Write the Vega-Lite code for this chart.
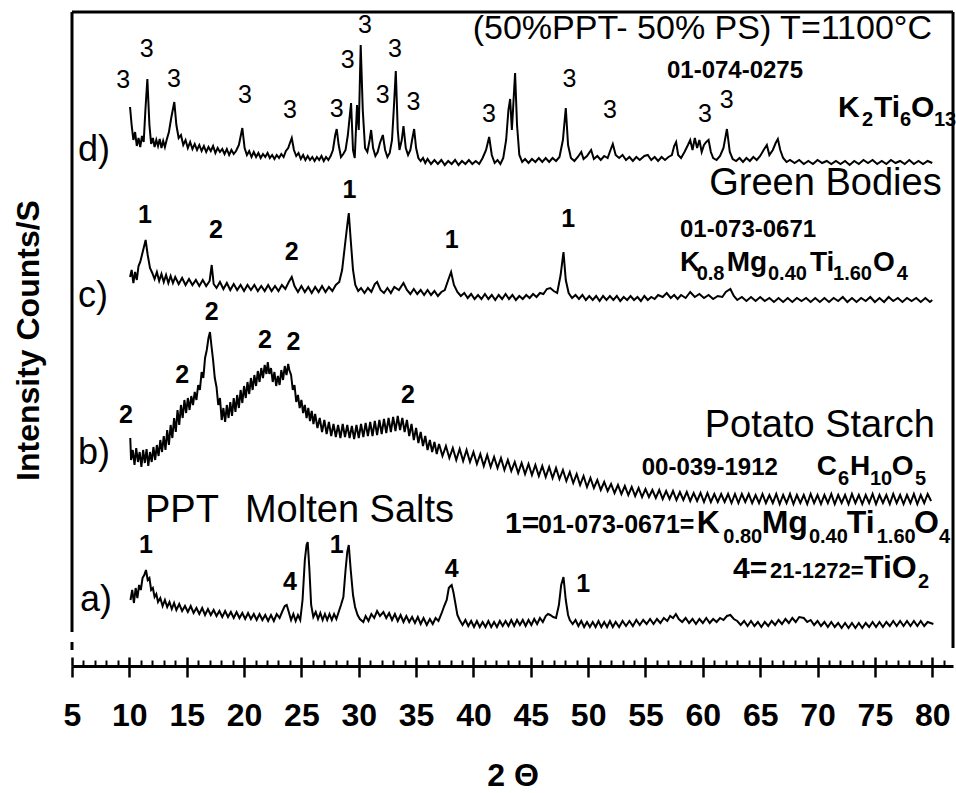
{
"$schema":"https://vega.github.io/schema/vega-lite/v6.json",
"width":881,"height":654,
"autosize":{"type":"none"},
"padding":{"left":72,"top":12,"right":3,"bottom":127},
"config":{"view":{"stroke":null},"font":"Liberation Sans","axis":{"grid":false}},
"datasets":{
"xrd":[
{"s":"d","t":10.06,"i":559},{"s":"d","t":10.2,"i":541},{"s":"d","t":10.35,"i":526},{"s":"d","t":10.5,"i":534},{"s":"d","t":10.65,"i":520},{"s":"d","t":10.8,"i":528},{"s":"d","t":10.95,"i":519},{"s":"d","t":11.1,"i":530},{"s":"d","t":11.25,"i":524},{"s":"d","t":11.4,"i":556},{"s":"d","t":11.57,"i":587},{"s":"d","t":11.75,"i":541},{"s":"d","t":11.9,"i":522},{"s":"d","t":12.05,"i":528},{"s":"d","t":12.2,"i":519},{"s":"d","t":12.35,"i":526},{"s":"d","t":12.5,"i":520},{"s":"d","t":12.65,"i":527},{"s":"d","t":12.8,"i":518},{"s":"d","t":12.95,"i":525},{"s":"d","t":13.1,"i":519},{"s":"d","t":13.25,"i":526},{"s":"d","t":13.45,"i":534},{"s":"d","t":13.65,"i":548},{"s":"d","t":13.92,"i":564},{"s":"d","t":14.1,"i":541},{"s":"d","t":14.3,"i":528},{"s":"d","t":14.5,"i":531},{"s":"d","t":14.7,"i":521},{"s":"d","t":14.9,"i":526},{"s":"d","t":15.1,"i":518},{"s":"d","t":15.3,"i":524},{"s":"d","t":15.5,"i":517},{"s":"d","t":15.7,"i":522},{"s":"d","t":15.9,"i":516},{"s":"d","t":16.1,"i":521},{"s":"d","t":16.3,"i":515},{"s":"d","t":16.5,"i":520},{"s":"d","t":16.7,"i":514},{"s":"d","t":16.9,"i":519},{"s":"d","t":17.1,"i":515},{"s":"d","t":17.3,"i":520},{"s":"d","t":17.5,"i":513},{"s":"d","t":17.7,"i":518},{"s":"d","t":17.9,"i":514},{"s":"d","t":18.1,"i":517},{"s":"d","t":18.3,"i":512},{"s":"d","t":18.5,"i":517},{"s":"d","t":18.7,"i":511},{"s":"d","t":18.9,"i":516},{"s":"d","t":19.1,"i":512},{"s":"d","t":19.3,"i":515},{"s":"d","t":19.55,"i":521},{"s":"d","t":19.85,"i":538},{"s":"d","t":20.05,"i":518},{"s":"d","t":20.25,"i":511},{"s":"d","t":20.45,"i":515},{"s":"d","t":20.65,"i":509},{"s":"d","t":20.85,"i":514},{"s":"d","t":21.05,"i":509},{"s":"d","t":21.25,"i":513},{"s":"d","t":21.45,"i":508},{"s":"d","t":21.65,"i":512},{"s":"d","t":21.85,"i":509},{"s":"d","t":22.05,"i":513},{"s":"d","t":22.25,"i":508},{"s":"d","t":22.45,"i":511},{"s":"d","t":22.65,"i":507},{"s":"d","t":22.85,"i":511},{"s":"d","t":23.05,"i":508},{"s":"d","t":23.25,"i":512},{"s":"d","t":23.45,"i":509},{"s":"d","t":23.65,"i":515},{"s":"d","t":23.85,"i":518},{"s":"d","t":24.0,"i":523},{"s":"d","t":24.16,"i":528},{"s":"d","t":24.35,"i":516},{"s":"d","t":24.55,"i":510},{"s":"d","t":24.75,"i":513},{"s":"d","t":24.95,"i":507},{"s":"d","t":25.15,"i":511},{"s":"d","t":25.35,"i":506},{"s":"d","t":25.55,"i":510},{"s":"d","t":25.75,"i":506},{"s":"d","t":25.95,"i":509},{"s":"d","t":26.15,"i":505},{"s":"d","t":26.35,"i":509},{"s":"d","t":26.55,"i":506},{"s":"d","t":26.75,"i":510},{"s":"d","t":26.95,"i":505},{"s":"d","t":27.15,"i":509},{"s":"d","t":27.35,"i":506},{"s":"d","t":27.55,"i":510},{"s":"d","t":27.75,"i":516},{"s":"d","t":27.95,"i":531},{"s":"d","t":28.08,"i":537},{"s":"d","t":28.25,"i":521},{"s":"d","t":28.45,"i":509},{"s":"d","t":28.65,"i":512},{"s":"d","t":28.85,"i":516},{"s":"d","t":29.05,"i":531},{"s":"d","t":29.33,"i":563},{"s":"d","t":29.5,"i":516},{"s":"d","t":29.65,"i":508},{"s":"d","t":29.85,"i":561},{"s":"d","t":30.0,"i":536},{"s":"d","t":30.17,"i":621},{"s":"d","t":30.35,"i":556},{"s":"d","t":30.55,"i":518},{"s":"d","t":30.75,"i":514},{"s":"d","t":30.95,"i":526},{"s":"d","t":31.08,"i":536},{"s":"d","t":31.25,"i":518},{"s":"d","t":31.45,"i":510},{"s":"d","t":31.65,"i":514},{"s":"d","t":31.85,"i":523},{"s":"d","t":32.1,"i":531},{"s":"d","t":32.3,"i":516},{"s":"d","t":32.5,"i":509},{"s":"d","t":32.7,"i":513},{"s":"d","t":32.9,"i":526},{"s":"d","t":33.05,"i":556},{"s":"d","t":33.23,"i":595},{"s":"d","t":33.4,"i":536},{"s":"d","t":33.55,"i":516},{"s":"d","t":33.75,"i":526},{"s":"d","t":33.9,"i":540},{"s":"d","t":34.1,"i":518},{"s":"d","t":34.3,"i":511},{"s":"d","t":34.5,"i":516},{"s":"d","t":34.65,"i":526},{"s":"d","t":34.83,"i":537},{"s":"d","t":35.0,"i":518},{"s":"d","t":35.2,"i":508},{"s":"d","t":35.4,"i":505},{"s":"d","t":35.6,"i":508},{"s":"d","t":35.8,"i":503},{"s":"d","t":36.0,"i":507},{"s":"d","t":36.3,"i":502},{"s":"d","t":36.6,"i":506},{"s":"d","t":36.9,"i":502},{"s":"d","t":37.2,"i":506},{"s":"d","t":37.5,"i":501},{"s":"d","t":37.8,"i":505},{"s":"d","t":38.1,"i":502},{"s":"d","t":38.4,"i":506},{"s":"d","t":38.7,"i":501},{"s":"d","t":39.0,"i":505},{"s":"d","t":39.3,"i":502},{"s":"d","t":39.6,"i":506},{"s":"d","t":39.9,"i":502},{"s":"d","t":40.2,"i":505},{"s":"d","t":40.5,"i":502},{"s":"d","t":40.8,"i":508},{"s":"d","t":41.1,"i":516},{"s":"d","t":41.37,"i":529},{"s":"d","t":41.6,"i":511},{"s":"d","t":41.85,"i":503},{"s":"d","t":42.1,"i":506},{"s":"d","t":42.35,"i":502},{"s":"d","t":42.6,"i":508},{"s":"d","t":42.85,"i":526},{"s":"d","t":43.05,"i":556},{"s":"d","t":43.2,"i":567},{"s":"d","t":43.35,"i":536},{"s":"d","t":43.45,"i":556},{"s":"d","t":43.63,"i":593},{"s":"d","t":43.8,"i":541},{"s":"d","t":44.0,"i":511},{"s":"d","t":44.25,"i":504},{"s":"d","t":44.5,"i":507},{"s":"d","t":44.8,"i":503},{"s":"d","t":45.1,"i":507},{"s":"d","t":45.4,"i":504},{"s":"d","t":45.7,"i":508},{"s":"d","t":46.0,"i":504},{"s":"d","t":46.3,"i":508},{"s":"d","t":46.6,"i":504},{"s":"d","t":46.9,"i":508},{"s":"d","t":47.2,"i":505},{"s":"d","t":47.5,"i":509},{"s":"d","t":47.8,"i":526},{"s":"d","t":48.05,"i":558},{"s":"d","t":48.25,"i":521},{"s":"d","t":48.5,"i":508},{"s":"d","t":48.8,"i":505},{"s":"d","t":49.1,"i":509},{"s":"d","t":49.4,"i":514},{"s":"d","t":49.6,"i":507},{"s":"d","t":49.9,"i":510},{"s":"d","t":50.26,"i":516},{"s":"d","t":50.5,"i":507},{"s":"d","t":50.8,"i":510},{"s":"d","t":51.1,"i":506},{"s":"d","t":51.4,"i":510},{"s":"d","t":51.7,"i":508},{"s":"d","t":51.95,"i":516},{"s":"d","t":52.15,"i":522},{"s":"d","t":52.4,"i":511},{"s":"d","t":52.7,"i":508},{"s":"d","t":53.0,"i":511},{"s":"d","t":53.3,"i":506},{"s":"d","t":53.6,"i":509},{"s":"d","t":53.9,"i":505},{"s":"d","t":54.2,"i":509},{"s":"d","t":54.5,"i":506},{"s":"d","t":54.9,"i":510},{"s":"d","t":55.2,"i":511},{"s":"d","t":55.5,"i":506},{"s":"d","t":55.8,"i":509},{"s":"d","t":56.1,"i":505},{"s":"d","t":56.4,"i":509},{"s":"d","t":56.7,"i":506},{"s":"d","t":57.0,"i":509},{"s":"d","t":57.3,"i":511},{"s":"d","t":57.5,"i":520},{"s":"d","t":57.67,"i":524},{"s":"d","t":57.85,"i":511},{"s":"d","t":58.1,"i":508},{"s":"d","t":58.4,"i":514},{"s":"d","t":58.7,"i":521},{"s":"d","t":58.9,"i":526},{"s":"d","t":59.1,"i":516},{"s":"d","t":59.3,"i":528},{"s":"d","t":59.5,"i":518},{"s":"d","t":59.7,"i":526},{"s":"d","t":59.9,"i":514},{"s":"d","t":60.1,"i":521},{"s":"d","t":60.3,"i":524},{"s":"d","t":60.5,"i":526},{"s":"d","t":60.7,"i":514},{"s":"d","t":60.9,"i":508},{"s":"d","t":61.2,"i":506},{"s":"d","t":61.5,"i":510},{"s":"d","t":61.8,"i":518},{"s":"d","t":62.1,"i":537},{"s":"d","t":62.35,"i":514},{"s":"d","t":62.6,"i":507},{"s":"d","t":62.9,"i":505},{"s":"d","t":63.2,"i":508},{"s":"d","t":63.5,"i":504},{"s":"d","t":63.8,"i":508},{"s":"d","t":64.1,"i":505},{"s":"d","t":64.4,"i":509},{"s":"d","t":64.7,"i":506},{"s":"d","t":65.0,"i":510},{"s":"d","t":65.3,"i":516},{"s":"d","t":65.58,"i":521},{"s":"d","t":65.8,"i":511},{"s":"d","t":66.1,"i":516},{"s":"d","t":66.35,"i":523},{"s":"d","t":66.54,"i":527},{"s":"d","t":66.75,"i":516},{"s":"d","t":67.0,"i":508},{"s":"d","t":67.3,"i":504},{"s":"d","t":67.6,"i":506},{"s":"d","t":68.0,"i":503},{"s":"d","t":68.4,"i":506},{"s":"d","t":68.8,"i":502},{"s":"d","t":69.2,"i":505},{"s":"d","t":69.6,"i":502},{"s":"d","t":70.0,"i":506},{"s":"d","t":70.4,"i":503},{"s":"d","t":70.8,"i":505},{"s":"d","t":71.2,"i":502},{"s":"d","t":71.6,"i":505},{"s":"d","t":72.0,"i":502},{"s":"d","t":72.4,"i":505},{"s":"d","t":72.8,"i":501},{"s":"d","t":73.2,"i":505},{"s":"d","t":73.6,"i":502},{"s":"d","t":74.0,"i":506},{"s":"d","t":74.4,"i":503},{"s":"d","t":74.8,"i":506},{"s":"d","t":75.2,"i":502},{"s":"d","t":75.6,"i":505},{"s":"d","t":76.0,"i":502},{"s":"d","t":76.4,"i":506},{"s":"d","t":76.8,"i":503},{"s":"d","t":77.2,"i":505},{"s":"d","t":77.6,"i":502},{"s":"d","t":78.0,"i":506},{"s":"d","t":78.4,"i":502},{"s":"d","t":78.8,"i":505},{"s":"d","t":79.2,"i":502},{"s":"d","t":79.6,"i":505},{"s":"d","t":80.0,"i":503},
{"s":"c","t":10.06,"i":389},{"s":"c","t":10.2,"i":396},{"s":"c","t":10.35,"i":383},{"s":"c","t":10.5,"i":394},{"s":"c","t":10.65,"i":386},{"s":"c","t":10.8,"i":400},{"s":"c","t":10.95,"i":404},{"s":"c","t":11.1,"i":411},{"s":"c","t":11.25,"i":418},{"s":"c","t":11.42,"i":426},{"s":"c","t":11.6,"i":411},{"s":"c","t":11.8,"i":398},{"s":"c","t":12.0,"i":393},{"s":"c","t":12.2,"i":387},{"s":"c","t":12.4,"i":394},{"s":"c","t":12.6,"i":385},{"s":"c","t":12.8,"i":392},{"s":"c","t":13.0,"i":384},{"s":"c","t":13.2,"i":391},{"s":"c","t":13.4,"i":383},{"s":"c","t":13.6,"i":390},{"s":"c","t":13.8,"i":383},{"s":"c","t":14.0,"i":389},{"s":"c","t":14.3,"i":382},{"s":"c","t":14.6,"i":388},{"s":"c","t":14.9,"i":381},{"s":"c","t":15.2,"i":387},{"s":"c","t":15.5,"i":381},{"s":"c","t":15.8,"i":386},{"s":"c","t":16.1,"i":380},{"s":"c","t":16.4,"i":386},{"s":"c","t":16.7,"i":380},{"s":"c","t":17.0,"i":385},{"s":"c","t":17.18,"i":401},{"s":"c","t":17.35,"i":382},{"s":"c","t":17.6,"i":378},{"s":"c","t":17.9,"i":384},{"s":"c","t":18.2,"i":377},{"s":"c","t":18.5,"i":383},{"s":"c","t":18.8,"i":376},{"s":"c","t":19.1,"i":382},{"s":"c","t":19.4,"i":376},{"s":"c","t":19.7,"i":381},{"s":"c","t":20.0,"i":375},{"s":"c","t":20.3,"i":381},{"s":"c","t":20.6,"i":376},{"s":"c","t":20.9,"i":381},{"s":"c","t":21.2,"i":375},{"s":"c","t":21.5,"i":380},{"s":"c","t":21.8,"i":375},{"s":"c","t":22.1,"i":381},{"s":"c","t":22.4,"i":375},{"s":"c","t":22.7,"i":380},{"s":"c","t":23.0,"i":375},{"s":"c","t":23.3,"i":381},{"s":"c","t":23.6,"i":377},{"s":"c","t":23.9,"i":384},{"s":"c","t":24.16,"i":389},{"s":"c","t":24.4,"i":380},{"s":"c","t":24.7,"i":374},{"s":"c","t":25.0,"i":380},{"s":"c","t":25.3,"i":374},{"s":"c","t":25.6,"i":379},{"s":"c","t":25.9,"i":373},{"s":"c","t":26.2,"i":379},{"s":"c","t":26.5,"i":374},{"s":"c","t":26.8,"i":380},{"s":"c","t":27.1,"i":374},{"s":"c","t":27.4,"i":379},{"s":"c","t":27.7,"i":375},{"s":"c","t":28.0,"i":381},{"s":"c","t":28.3,"i":384},{"s":"c","t":28.55,"i":396},{"s":"c","t":28.8,"i":421},{"s":"c","t":29.0,"i":441},{"s":"c","t":29.13,"i":453},{"s":"c","t":29.3,"i":426},{"s":"c","t":29.5,"i":396},{"s":"c","t":29.7,"i":381},{"s":"c","t":29.95,"i":375},{"s":"c","t":30.2,"i":378},{"s":"c","t":30.5,"i":373},{"s":"c","t":30.8,"i":378},{"s":"c","t":31.1,"i":374},{"s":"c","t":31.4,"i":382},{"s":"c","t":31.6,"i":384},{"s":"c","t":31.9,"i":376},{"s":"c","t":32.2,"i":373},{"s":"c","t":32.5,"i":378},{"s":"c","t":32.8,"i":373},{"s":"c","t":33.1,"i":379},{"s":"c","t":33.5,"i":376},{"s":"c","t":33.9,"i":383},{"s":"c","t":34.2,"i":376},{"s":"c","t":34.5,"i":372},{"s":"c","t":34.8,"i":377},{"s":"c","t":35.1,"i":372},{"s":"c","t":35.4,"i":376},{"s":"c","t":35.7,"i":371},{"s":"c","t":36.0,"i":376},{"s":"c","t":36.3,"i":371},{"s":"c","t":36.6,"i":375},{"s":"c","t":36.9,"i":370},{"s":"c","t":37.2,"i":374},{"s":"c","t":37.5,"i":376},{"s":"c","t":37.8,"i":386},{"s":"c","t":38.05,"i":394},{"s":"c","t":38.3,"i":381},{"s":"c","t":38.6,"i":374},{"s":"c","t":38.9,"i":370},{"s":"c","t":39.2,"i":373},{"s":"c","t":39.5,"i":368},{"s":"c","t":39.8,"i":372},{"s":"c","t":40.1,"i":367},{"s":"c","t":40.4,"i":371},{"s":"c","t":40.7,"i":367},{"s":"c","t":41.0,"i":372},{"s":"c","t":41.3,"i":367},{"s":"c","t":41.6,"i":371},{"s":"c","t":41.9,"i":366},{"s":"c","t":42.2,"i":371},{"s":"c","t":42.5,"i":367},{"s":"c","t":42.8,"i":372},{"s":"c","t":43.1,"i":367},{"s":"c","t":43.4,"i":371},{"s":"c","t":43.7,"i":366},{"s":"c","t":44.0,"i":370},{"s":"c","t":44.3,"i":367},{"s":"c","t":44.6,"i":371},{"s":"c","t":44.9,"i":368},{"s":"c","t":45.2,"i":372},{"s":"c","t":45.5,"i":369},{"s":"c","t":45.8,"i":373},{"s":"c","t":46.1,"i":372},{"s":"c","t":46.4,"i":377},{"s":"c","t":46.7,"i":378},{"s":"c","t":47.0,"i":375},{"s":"c","t":47.3,"i":373},{"s":"c","t":47.6,"i":391},{"s":"c","t":47.85,"i":414},{"s":"c","t":48.05,"i":386},{"s":"c","t":48.3,"i":373},{"s":"c","t":48.6,"i":368},{"s":"c","t":48.9,"i":371},{"s":"c","t":49.2,"i":367},{"s":"c","t":49.5,"i":371},{"s":"c","t":49.8,"i":366},{"s":"c","t":50.1,"i":370},{"s":"c","t":50.4,"i":366},{"s":"c","t":50.7,"i":370},{"s":"c","t":51.0,"i":365},{"s":"c","t":51.3,"i":370},{"s":"c","t":51.6,"i":366},{"s":"c","t":51.9,"i":370},{"s":"c","t":52.2,"i":366},{"s":"c","t":52.5,"i":370},{"s":"c","t":52.8,"i":365},{"s":"c","t":53.1,"i":369},{"s":"c","t":53.4,"i":366},{"s":"c","t":53.7,"i":370},{"s":"c","t":54.0,"i":366},{"s":"c","t":54.3,"i":369},{"s":"c","t":54.6,"i":365},{"s":"c","t":54.9,"i":370},{"s":"c","t":55.2,"i":366},{"s":"c","t":55.5,"i":369},{"s":"c","t":55.8,"i":367},{"s":"c","t":56.1,"i":371},{"s":"c","t":56.5,"i":369},{"s":"c","t":56.85,"i":373},{"s":"c","t":57.2,"i":368},{"s":"c","t":57.5,"i":371},{"s":"c","t":57.8,"i":367},{"s":"c","t":58.1,"i":371},{"s":"c","t":58.5,"i":368},{"s":"c","t":58.9,"i":374},{"s":"c","t":59.3,"i":369},{"s":"c","t":59.7,"i":372},{"s":"c","t":60.1,"i":368},{"s":"c","t":60.5,"i":371},{"s":"c","t":60.9,"i":367},{"s":"c","t":61.3,"i":370},{"s":"c","t":61.7,"i":369},{"s":"c","t":62.0,"i":374},{"s":"c","t":62.4,"i":377},{"s":"c","t":62.7,"i":370},{"s":"c","t":63.0,"i":366},{"s":"c","t":63.4,"i":369},{"s":"c","t":63.8,"i":365},{"s":"c","t":64.2,"i":369},{"s":"c","t":64.6,"i":365},{"s":"c","t":65.0,"i":369},{"s":"c","t":65.4,"i":365},{"s":"c","t":65.8,"i":368},{"s":"c","t":66.2,"i":364},{"s":"c","t":66.6,"i":368},{"s":"c","t":67.0,"i":364},{"s":"c","t":67.4,"i":368},{"s":"c","t":67.8,"i":364},{"s":"c","t":68.2,"i":368},{"s":"c","t":68.6,"i":365},{"s":"c","t":69.0,"i":368},{"s":"c","t":69.4,"i":364},{"s":"c","t":69.8,"i":368},{"s":"c","t":70.2,"i":364},{"s":"c","t":70.6,"i":368},{"s":"c","t":71.0,"i":364},{"s":"c","t":71.4,"i":368},{"s":"c","t":71.8,"i":365},{"s":"c","t":72.2,"i":369},{"s":"c","t":72.6,"i":364},{"s":"c","t":73.0,"i":368},{"s":"c","t":73.4,"i":364},{"s":"c","t":73.8,"i":368},{"s":"c","t":74.2,"i":365},{"s":"c","t":74.6,"i":369},{"s":"c","t":75.0,"i":364},{"s":"c","t":75.4,"i":368},{"s":"c","t":75.8,"i":364},{"s":"c","t":76.2,"i":369},{"s":"c","t":76.6,"i":365},{"s":"c","t":77.0,"i":368},{"s":"c","t":77.4,"i":364},{"s":"c","t":77.8,"i":368},{"s":"c","t":78.2,"i":365},{"s":"c","t":78.6,"i":368},{"s":"c","t":79.0,"i":364},{"s":"c","t":79.4,"i":368},{"s":"c","t":79.8,"i":364},{"s":"c","t":80.0,"i":366},
{"s":"b","t":10.08,"i":228},{"s":"b","t":10.15,"i":206},{"s":"b","t":10.3,"i":216},{"s":"b","t":10.45,"i":201},{"s":"b","t":10.6,"i":218},{"s":"b","t":10.75,"i":204},{"s":"b","t":10.9,"i":214},{"s":"b","t":11.05,"i":199},{"s":"b","t":11.2,"i":216},{"s":"b","t":11.35,"i":203},{"s":"b","t":11.5,"i":217},{"s":"b","t":11.65,"i":200},{"s":"b","t":11.8,"i":214},{"s":"b","t":11.95,"i":204},{"s":"b","t":12.1,"i":219},{"s":"b","t":12.25,"i":206},{"s":"b","t":12.4,"i":221},{"s":"b","t":12.55,"i":210},{"s":"b","t":12.7,"i":226},{"s":"b","t":12.85,"i":214},{"s":"b","t":13.0,"i":230},{"s":"b","t":13.15,"i":216},{"s":"b","t":13.3,"i":236},{"s":"b","t":13.45,"i":221},{"s":"b","t":13.6,"i":241},{"s":"b","t":13.75,"i":228},{"s":"b","t":13.9,"i":248},{"s":"b","t":14.05,"i":234},{"s":"b","t":14.2,"i":256},{"s":"b","t":14.35,"i":241},{"s":"b","t":14.5,"i":261},{"s":"b","t":14.65,"i":248},{"s":"b","t":14.8,"i":266},{"s":"b","t":14.95,"i":253},{"s":"b","t":15.1,"i":268},{"s":"b","t":15.25,"i":256},{"s":"b","t":15.4,"i":270},{"s":"b","t":15.55,"i":261},{"s":"b","t":15.7,"i":274},{"s":"b","t":15.85,"i":266},{"s":"b","t":16.0,"i":281},{"s":"b","t":16.15,"i":276},{"s":"b","t":16.3,"i":294},{"s":"b","t":16.45,"i":288},{"s":"b","t":16.6,"i":308},{"s":"b","t":16.75,"i":316},{"s":"b","t":16.9,"i":328},{"s":"b","t":17.03,"i":334},{"s":"b","t":17.15,"i":321},{"s":"b","t":17.3,"i":306},{"s":"b","t":17.45,"i":288},{"s":"b","t":17.6,"i":279},{"s":"b","t":17.75,"i":261},{"s":"b","t":17.9,"i":268},{"s":"b","t":18.05,"i":246},{"s":"b","t":18.2,"i":258},{"s":"b","t":18.35,"i":244},{"s":"b","t":18.5,"i":261},{"s":"b","t":18.65,"i":248},{"s":"b","t":18.8,"i":264},{"s":"b","t":18.95,"i":250},{"s":"b","t":19.1,"i":268},{"s":"b","t":19.25,"i":254},{"s":"b","t":19.4,"i":271},{"s":"b","t":19.55,"i":258},{"s":"b","t":19.7,"i":276},{"s":"b","t":19.85,"i":263},{"s":"b","t":20.0,"i":280},{"s":"b","t":20.15,"i":268},{"s":"b","t":20.3,"i":284},{"s":"b","t":20.45,"i":272},{"s":"b","t":20.6,"i":288},{"s":"b","t":20.75,"i":276},{"s":"b","t":20.9,"i":291},{"s":"b","t":21.05,"i":280},{"s":"b","t":21.2,"i":295},{"s":"b","t":21.35,"i":284},{"s":"b","t":21.5,"i":298},{"s":"b","t":21.65,"i":288},{"s":"b","t":21.8,"i":301},{"s":"b","t":21.95,"i":292},{"s":"b","t":22.07,"i":304},{"s":"b","t":22.2,"i":292},{"s":"b","t":22.35,"i":298},{"s":"b","t":22.5,"i":284},{"s":"b","t":22.65,"i":294},{"s":"b","t":22.8,"i":280},{"s":"b","t":22.95,"i":290},{"s":"b","t":23.1,"i":281},{"s":"b","t":23.25,"i":296},{"s":"b","t":23.4,"i":286},{"s":"b","t":23.55,"i":300},{"s":"b","t":23.7,"i":291},{"s":"b","t":23.85,"i":302},{"s":"b","t":23.95,"i":296},{"s":"b","t":24.1,"i":291},{"s":"b","t":24.25,"i":276},{"s":"b","t":24.4,"i":281},{"s":"b","t":24.55,"i":264},{"s":"b","t":24.7,"i":271},{"s":"b","t":24.85,"i":258},{"s":"b","t":25.0,"i":266},{"s":"b","t":25.15,"i":253},{"s":"b","t":25.3,"i":261},{"s":"b","t":25.45,"i":248},{"s":"b","t":25.6,"i":258},{"s":"b","t":25.75,"i":245},{"s":"b","t":25.9,"i":255},{"s":"b","t":26.05,"i":242},{"s":"b","t":26.2,"i":252},{"s":"b","t":26.4,"i":238},{"s":"b","t":26.6,"i":248},{"s":"b","t":26.8,"i":234},{"s":"b","t":27.0,"i":246},{"s":"b","t":27.2,"i":232},{"s":"b","t":27.4,"i":244},{"s":"b","t":27.6,"i":230},{"s":"b","t":27.8,"i":242},{"s":"b","t":28.0,"i":229},{"s":"b","t":28.2,"i":241},{"s":"b","t":28.4,"i":228},{"s":"b","t":28.6,"i":242},{"s":"b","t":28.8,"i":229},{"s":"b","t":29.0,"i":241},{"s":"b","t":29.2,"i":228},{"s":"b","t":29.4,"i":240},{"s":"b","t":29.6,"i":227},{"s":"b","t":29.8,"i":241},{"s":"b","t":30.0,"i":228},{"s":"b","t":30.2,"i":242},{"s":"b","t":30.4,"i":229},{"s":"b","t":30.6,"i":243},{"s":"b","t":30.8,"i":230},{"s":"b","t":31.0,"i":244},{"s":"b","t":31.2,"i":230},{"s":"b","t":31.4,"i":245},{"s":"b","t":31.6,"i":231},{"s":"b","t":31.8,"i":246},{"s":"b","t":32.0,"i":232},{"s":"b","t":32.2,"i":247},{"s":"b","t":32.4,"i":233},{"s":"b","t":32.6,"i":248},{"s":"b","t":32.8,"i":234},{"s":"b","t":33.0,"i":249},{"s":"b","t":33.2,"i":235},{"s":"b","t":33.4,"i":250},{"s":"b","t":33.6,"i":236},{"s":"b","t":33.8,"i":248},{"s":"b","t":34.0,"i":234},{"s":"b","t":34.2,"i":246},{"s":"b","t":34.4,"i":230},{"s":"b","t":34.6,"i":242},{"s":"b","t":34.8,"i":226},{"s":"b","t":35.0,"i":238},{"s":"b","t":35.2,"i":223},{"s":"b","t":35.4,"i":234},{"s":"b","t":35.6,"i":220},{"s":"b","t":35.8,"i":230},{"s":"b","t":36.0,"i":216},{"s":"b","t":36.2,"i":226},{"s":"b","t":36.4,"i":214},{"s":"b","t":36.6,"i":224},{"s":"b","t":36.8,"i":212},{"s":"b","t":37.0,"i":222},{"s":"b","t":37.3,"i":210},{"s":"b","t":37.6,"i":220},{"s":"b","t":37.9,"i":208},{"s":"b","t":38.2,"i":218},{"s":"b","t":38.5,"i":206},{"s":"b","t":38.8,"i":217},{"s":"b","t":39.1,"i":205},{"s":"b","t":39.4,"i":216},{"s":"b","t":39.7,"i":204},{"s":"b","t":40.0,"i":214},{"s":"b","t":40.3,"i":202},{"s":"b","t":40.6,"i":212},{"s":"b","t":40.9,"i":200},{"s":"b","t":41.2,"i":211},{"s":"b","t":41.5,"i":199},{"s":"b","t":41.8,"i":209},{"s":"b","t":42.1,"i":198},{"s":"b","t":42.4,"i":208},{"s":"b","t":42.7,"i":196},{"s":"b","t":43.0,"i":206},{"s":"b","t":43.3,"i":195},{"s":"b","t":43.6,"i":204},{"s":"b","t":43.9,"i":193},{"s":"b","t":44.2,"i":203},{"s":"b","t":44.5,"i":192},{"s":"b","t":44.8,"i":202},{"s":"b","t":45.1,"i":191},{"s":"b","t":45.4,"i":201},{"s":"b","t":45.7,"i":190},{"s":"b","t":46.0,"i":200},{"s":"b","t":46.3,"i":189},{"s":"b","t":46.6,"i":199},{"s":"b","t":46.9,"i":188},{"s":"b","t":47.2,"i":198},{"s":"b","t":47.5,"i":187},{"s":"b","t":47.8,"i":196},{"s":"b","t":48.1,"i":185},{"s":"b","t":48.4,"i":194},{"s":"b","t":48.7,"i":183},{"s":"b","t":49.0,"i":192},{"s":"b","t":49.3,"i":181},{"s":"b","t":49.6,"i":190},{"s":"b","t":49.9,"i":179},{"s":"b","t":50.2,"i":188},{"s":"b","t":50.5,"i":178},{"s":"b","t":50.8,"i":186},{"s":"b","t":51.1,"i":176},{"s":"b","t":51.4,"i":184},{"s":"b","t":51.7,"i":175},{"s":"b","t":52.0,"i":182},{"s":"b","t":52.3,"i":173},{"s":"b","t":52.6,"i":181},{"s":"b","t":52.9,"i":172},{"s":"b","t":53.2,"i":180},{"s":"b","t":53.5,"i":171},{"s":"b","t":53.8,"i":179},{"s":"b","t":54.1,"i":170},{"s":"b","t":54.4,"i":178},{"s":"b","t":54.7,"i":169},{"s":"b","t":55.0,"i":177},{"s":"b","t":55.3,"i":169},{"s":"b","t":55.6,"i":176},{"s":"b","t":55.9,"i":168},{"s":"b","t":56.2,"i":176},{"s":"b","t":56.5,"i":167},{"s":"b","t":56.8,"i":175},{"s":"b","t":57.1,"i":167},{"s":"b","t":57.4,"i":175},{"s":"b","t":57.7,"i":166},{"s":"b","t":58.0,"i":174},{"s":"b","t":58.3,"i":166},{"s":"b","t":58.6,"i":174},{"s":"b","t":58.9,"i":165},{"s":"b","t":59.2,"i":173},{"s":"b","t":59.5,"i":165},{"s":"b","t":59.8,"i":173},{"s":"b","t":60.1,"i":164},{"s":"b","t":60.4,"i":173},{"s":"b","t":60.7,"i":164},{"s":"b","t":61.0,"i":172},{"s":"b","t":61.3,"i":164},{"s":"b","t":61.6,"i":172},{"s":"b","t":61.9,"i":164},{"s":"b","t":62.2,"i":172},{"s":"b","t":62.5,"i":163},{"s":"b","t":62.8,"i":172},{"s":"b","t":63.1,"i":163},{"s":"b","t":63.4,"i":172},{"s":"b","t":63.7,"i":164},{"s":"b","t":64.0,"i":172},{"s":"b","t":64.3,"i":163},{"s":"b","t":64.6,"i":171},{"s":"b","t":64.9,"i":163},{"s":"b","t":65.2,"i":172},{"s":"b","t":65.5,"i":163},{"s":"b","t":65.8,"i":171},{"s":"b","t":66.1,"i":163},{"s":"b","t":66.4,"i":172},{"s":"b","t":66.7,"i":162},{"s":"b","t":67.0,"i":171},{"s":"b","t":67.3,"i":163},{"s":"b","t":67.6,"i":172},{"s":"b","t":67.9,"i":162},{"s":"b","t":68.2,"i":171},{"s":"b","t":68.5,"i":163},{"s":"b","t":68.8,"i":171},{"s":"b","t":69.1,"i":162},{"s":"b","t":69.4,"i":172},{"s":"b","t":69.7,"i":163},{"s":"b","t":70.0,"i":171},{"s":"b","t":70.3,"i":162},{"s":"b","t":70.6,"i":171},{"s":"b","t":70.9,"i":163},{"s":"b","t":71.2,"i":172},{"s":"b","t":71.5,"i":162},{"s":"b","t":71.8,"i":171},{"s":"b","t":72.1,"i":163},{"s":"b","t":72.4,"i":171},{"s":"b","t":72.7,"i":162},{"s":"b","t":73.0,"i":172},{"s":"b","t":73.3,"i":163},{"s":"b","t":73.6,"i":171},{"s":"b","t":73.9,"i":162},{"s":"b","t":74.2,"i":171},{"s":"b","t":74.5,"i":163},{"s":"b","t":74.8,"i":172},{"s":"b","t":75.1,"i":162},{"s":"b","t":75.4,"i":171},{"s":"b","t":75.7,"i":163},{"s":"b","t":76.0,"i":171},{"s":"b","t":76.3,"i":162},{"s":"b","t":76.6,"i":172},{"s":"b","t":76.9,"i":163},{"s":"b","t":77.2,"i":171},{"s":"b","t":77.5,"i":162},{"s":"b","t":77.8,"i":171},{"s":"b","t":78.1,"i":163},{"s":"b","t":78.4,"i":172},{"s":"b","t":78.7,"i":162},{"s":"b","t":79.0,"i":171},{"s":"b","t":79.3,"i":163},{"s":"b","t":79.6,"i":172},{"s":"b","t":79.9,"i":165},
{"s":"a","t":10.1,"i":66},{"s":"a","t":10.25,"i":76},{"s":"a","t":10.4,"i":63},{"s":"a","t":10.55,"i":78},{"s":"a","t":10.7,"i":68},{"s":"a","t":10.85,"i":81},{"s":"a","t":11.0,"i":76},{"s":"a","t":11.15,"i":88},{"s":"a","t":11.3,"i":91},{"s":"a","t":11.45,"i":96},{"s":"a","t":11.6,"i":86},{"s":"a","t":11.75,"i":88},{"s":"a","t":11.9,"i":76},{"s":"a","t":12.05,"i":78},{"s":"a","t":12.2,"i":69},{"s":"a","t":12.35,"i":72},{"s":"a","t":12.5,"i":64},{"s":"a","t":12.7,"i":68},{"s":"a","t":12.9,"i":60},{"s":"a","t":13.1,"i":66},{"s":"a","t":13.3,"i":59},{"s":"a","t":13.5,"i":64},{"s":"a","t":13.7,"i":57},{"s":"a","t":13.9,"i":63},{"s":"a","t":14.1,"i":56},{"s":"a","t":14.35,"i":62},{"s":"a","t":14.6,"i":55},{"s":"a","t":14.85,"i":60},{"s":"a","t":15.1,"i":54},{"s":"a","t":15.35,"i":60},{"s":"a","t":15.6,"i":53},{"s":"a","t":15.85,"i":58},{"s":"a","t":16.1,"i":52},{"s":"a","t":16.35,"i":58},{"s":"a","t":16.6,"i":51},{"s":"a","t":16.85,"i":57},{"s":"a","t":17.1,"i":51},{"s":"a","t":17.35,"i":56},{"s":"a","t":17.6,"i":50},{"s":"a","t":17.85,"i":55},{"s":"a","t":18.1,"i":49},{"s":"a","t":18.35,"i":55},{"s":"a","t":18.6,"i":49},{"s":"a","t":18.85,"i":54},{"s":"a","t":19.1,"i":48},{"s":"a","t":19.35,"i":54},{"s":"a","t":19.6,"i":48},{"s":"a","t":19.85,"i":53},{"s":"a","t":20.1,"i":47},{"s":"a","t":20.35,"i":53},{"s":"a","t":20.6,"i":47},{"s":"a","t":20.85,"i":52},{"s":"a","t":21.1,"i":46},{"s":"a","t":21.35,"i":52},{"s":"a","t":21.6,"i":46},{"s":"a","t":21.85,"i":51},{"s":"a","t":22.1,"i":45},{"s":"a","t":22.35,"i":51},{"s":"a","t":22.6,"i":45},{"s":"a","t":22.85,"i":52},{"s":"a","t":23.1,"i":48},{"s":"a","t":23.35,"i":55},{"s":"a","t":23.55,"i":60},{"s":"a","t":23.72,"i":61},{"s":"a","t":23.9,"i":54},{"s":"a","t":24.1,"i":46},{"s":"a","t":24.3,"i":52},{"s":"a","t":24.5,"i":45},{"s":"a","t":24.7,"i":51},{"s":"a","t":24.9,"i":46},{"s":"a","t":25.1,"i":66},{"s":"a","t":25.3,"i":106},{"s":"a","t":25.45,"i":121},{"s":"a","t":25.55,"i":124},{"s":"a","t":25.7,"i":96},{"s":"a","t":25.85,"i":61},{"s":"a","t":26.04,"i":49},{"s":"a","t":26.25,"i":54},{"s":"a","t":26.45,"i":47},{"s":"a","t":26.65,"i":53},{"s":"a","t":26.85,"i":46},{"s":"a","t":27.05,"i":52},{"s":"a","t":27.25,"i":46},{"s":"a","t":27.45,"i":52},{"s":"a","t":27.65,"i":46},{"s":"a","t":27.85,"i":52},{"s":"a","t":28.05,"i":47},{"s":"a","t":28.25,"i":54},{"s":"a","t":28.45,"i":61},{"s":"a","t":28.66,"i":69},{"s":"a","t":28.85,"i":96},{"s":"a","t":29.0,"i":114},{"s":"a","t":29.13,"i":121},{"s":"a","t":29.3,"i":96},{"s":"a","t":29.5,"i":71},{"s":"a","t":29.68,"i":59},{"s":"a","t":29.9,"i":51},{"s":"a","t":30.1,"i":47},{"s":"a","t":30.4,"i":44},{"s":"a","t":30.6,"i":50},{"s":"a","t":30.85,"i":45},{"s":"a","t":31.1,"i":52},{"s":"a","t":31.35,"i":48},{"s":"a","t":31.6,"i":55},{"s":"a","t":31.85,"i":50},{"s":"a","t":32.15,"i":54},{"s":"a","t":32.4,"i":48},{"s":"a","t":32.65,"i":53},{"s":"a","t":32.9,"i":46},{"s":"a","t":33.15,"i":52},{"s":"a","t":33.4,"i":45},{"s":"a","t":33.65,"i":51},{"s":"a","t":33.9,"i":44},{"s":"a","t":34.15,"i":50},{"s":"a","t":34.4,"i":44},{"s":"a","t":34.65,"i":49},{"s":"a","t":34.9,"i":43},{"s":"a","t":35.15,"i":49},{"s":"a","t":35.4,"i":42},{"s":"a","t":35.65,"i":48},{"s":"a","t":35.93,"i":41},{"s":"a","t":36.2,"i":47},{"s":"a","t":36.45,"i":42},{"s":"a","t":36.7,"i":48},{"s":"a","t":36.95,"i":45},{"s":"a","t":37.2,"i":52},{"s":"a","t":37.45,"i":60},{"s":"a","t":37.67,"i":66},{"s":"a","t":37.85,"i":78},{"s":"a","t":38.0,"i":80},{"s":"a","t":38.1,"i":81},{"s":"a","t":38.25,"i":74},{"s":"a","t":38.45,"i":61},{"s":"a","t":38.6,"i":51},{"s":"a","t":38.8,"i":46},{"s":"a","t":39.05,"i":41},{"s":"a","t":39.3,"i":46},{"s":"a","t":39.55,"i":40},{"s":"a","t":39.8,"i":45},{"s":"a","t":40.05,"i":39},{"s":"a","t":40.3,"i":45},{"s":"a","t":40.55,"i":39},{"s":"a","t":40.8,"i":44},{"s":"a","t":41.05,"i":39},{"s":"a","t":41.3,"i":45},{"s":"a","t":41.55,"i":39},{"s":"a","t":41.8,"i":44},{"s":"a","t":42.05,"i":39},{"s":"a","t":42.3,"i":45},{"s":"a","t":42.55,"i":40},{"s":"a","t":42.8,"i":45},{"s":"a","t":43.05,"i":40},{"s":"a","t":43.3,"i":46},{"s":"a","t":43.55,"i":40},{"s":"a","t":43.8,"i":46},{"s":"a","t":44.05,"i":41},{"s":"a","t":44.3,"i":46},{"s":"a","t":44.55,"i":40},{"s":"a","t":44.8,"i":46},{"s":"a","t":45.05,"i":41},{"s":"a","t":45.3,"i":47},{"s":"a","t":45.55,"i":42},{"s":"a","t":45.8,"i":48},{"s":"a","t":46.05,"i":44},{"s":"a","t":46.3,"i":50},{"s":"a","t":46.5,"i":52},{"s":"a","t":46.7,"i":51},{"s":"a","t":46.95,"i":49},{"s":"a","t":47.2,"i":48},{"s":"a","t":47.45,"i":61},{"s":"a","t":47.65,"i":81},{"s":"a","t":47.85,"i":89},{"s":"a","t":48.05,"i":66},{"s":"a","t":48.25,"i":51},{"s":"a","t":48.4,"i":46},{"s":"a","t":48.65,"i":42},{"s":"a","t":48.9,"i":46},{"s":"a","t":49.15,"i":40},{"s":"a","t":49.4,"i":45},{"s":"a","t":49.65,"i":39},{"s":"a","t":49.9,"i":44},{"s":"a","t":50.15,"i":39},{"s":"a","t":50.4,"i":44},{"s":"a","t":50.65,"i":39},{"s":"a","t":50.9,"i":45},{"s":"a","t":51.15,"i":39},{"s":"a","t":51.4,"i":44},{"s":"a","t":51.65,"i":39},{"s":"a","t":51.9,"i":45},{"s":"a","t":52.15,"i":39},{"s":"a","t":52.4,"i":44},{"s":"a","t":52.7,"i":39},{"s":"a","t":53.0,"i":45},{"s":"a","t":53.3,"i":40},{"s":"a","t":53.6,"i":45},{"s":"a","t":53.9,"i":40},{"s":"a","t":54.2,"i":46},{"s":"a","t":54.5,"i":41},{"s":"a","t":54.8,"i":46},{"s":"a","t":55.1,"i":42},{"s":"a","t":55.4,"i":47},{"s":"a","t":55.7,"i":42},{"s":"a","t":56.0,"i":47},{"s":"a","t":56.3,"i":43},{"s":"a","t":56.6,"i":48},{"s":"a","t":56.9,"i":45},{"s":"a","t":57.15,"i":50},{"s":"a","t":57.4,"i":48},{"s":"a","t":57.65,"i":52},{"s":"a","t":57.9,"i":47},{"s":"a","t":58.2,"i":44},{"s":"a","t":58.5,"i":48},{"s":"a","t":58.8,"i":43},{"s":"a","t":59.1,"i":47},{"s":"a","t":59.4,"i":42},{"s":"a","t":59.7,"i":47},{"s":"a","t":60.0,"i":43},{"s":"a","t":60.3,"i":48},{"s":"a","t":60.6,"i":43},{"s":"a","t":60.9,"i":47},{"s":"a","t":61.2,"i":44},{"s":"a","t":61.5,"i":48},{"s":"a","t":61.8,"i":46},{"s":"a","t":62.1,"i":50},{"s":"a","t":62.4,"i":51},{"s":"a","t":62.7,"i":47},{"s":"a","t":63.0,"i":45},{"s":"a","t":63.3,"i":41},{"s":"a","t":63.6,"i":45},{"s":"a","t":63.9,"i":40},{"s":"a","t":64.2,"i":45},{"s":"a","t":64.5,"i":40},{"s":"a","t":64.8,"i":44},{"s":"a","t":65.1,"i":39},{"s":"a","t":65.4,"i":44},{"s":"a","t":65.7,"i":40},{"s":"a","t":66.0,"i":45},{"s":"a","t":66.3,"i":41},{"s":"a","t":66.6,"i":46},{"s":"a","t":66.9,"i":42},{"s":"a","t":67.2,"i":47},{"s":"a","t":67.5,"i":43},{"s":"a","t":67.8,"i":48},{"s":"a","t":68.1,"i":44},{"s":"a","t":68.4,"i":49},{"s":"a","t":68.8,"i":48},{"s":"a","t":69.1,"i":44},{"s":"a","t":69.4,"i":46},{"s":"a","t":69.7,"i":41},{"s":"a","t":70.0,"i":45},{"s":"a","t":70.3,"i":40},{"s":"a","t":70.6,"i":44},{"s":"a","t":70.9,"i":39},{"s":"a","t":71.2,"i":44},{"s":"a","t":71.5,"i":39},{"s":"a","t":71.8,"i":43},{"s":"a","t":72.1,"i":38},{"s":"a","t":72.4,"i":43},{"s":"a","t":72.7,"i":38},{"s":"a","t":73.0,"i":43},{"s":"a","t":73.3,"i":38},{"s":"a","t":73.6,"i":43},{"s":"a","t":73.9,"i":38},{"s":"a","t":74.2,"i":43},{"s":"a","t":74.5,"i":39},{"s":"a","t":74.8,"i":44},{"s":"a","t":75.1,"i":39},{"s":"a","t":75.4,"i":44},{"s":"a","t":75.7,"i":39},{"s":"a","t":76.0,"i":44},{"s":"a","t":76.3,"i":40},{"s":"a","t":76.6,"i":45},{"s":"a","t":76.9,"i":40},{"s":"a","t":77.2,"i":45},{"s":"a","t":77.5,"i":40},{"s":"a","t":77.8,"i":45},{"s":"a","t":78.1,"i":40},{"s":"a","t":78.4,"i":45},{"s":"a","t":78.7,"i":40},{"s":"a","t":79.0,"i":45},{"s":"a","t":79.3,"i":40},{"s":"a","t":79.6,"i":44},{"s":"a","t":80.1,"i":42}
],
"n3":[{"t":9.47,"i":577.7,"l":"3"},{"t":11.51,"i":609,"l":"3"},{"t":13.89,"i":579,"l":"3"},{"t":20.08,"i":563,"l":"3"},{"t":24.01,"i":548,"l":"3"},{"t":28.08,"i":549,"l":"3"},{"t":29.04,"i":598,"l":"3"},{"t":30.54,"i":633,"l":"3"},{"t":32.09,"i":563,"l":"3"},{"t":33.16,"i":609,"l":"3"},{"t":34.76,"i":556,"l":"3"},{"t":41.36,"i":544,"l":"3"},{"t":48.36,"i":579,"l":"3"},{"t":51.91,"i":548,"l":"3"},{"t":60.19,"i":544,"l":"3"},{"t":62.08,"i":558,"l":"3"}],
"nb":[{"t":11.36,"i":443,"l":"1"},{"t":17.55,"i":428,"l":"2"},{"t":24.15,"i":406,"l":"2"},{"t":29.18,"i":468,"l":"1"},{"t":38.1,"i":418,"l":"1"},{"t":48.27,"i":439,"l":"1"},{"t":9.71,"i":243,"l":"2"},{"t":14.61,"i":283,"l":"2"},{"t":17.17,"i":346,"l":"2"},{"t":21.83,"i":318,"l":"2"},{"t":24.3,"i":316,"l":"2"},{"t":34.29,"i":263,"l":"2"},{"t":11.45,"i":113,"l":"1"},{"t":24.01,"i":76,"l":"4"},{"t":28.08,"i":113,"l":"1"},{"t":38.1,"i":89,"l":"4"},{"t":49.58,"i":74,"l":"1"}],
"letters":[{"t":5.52,"i":505,"l":"d)"},{"t":5.52,"i":359,"l":"c)"},{"t":5.52,"i":202,"l":"b)"},{"t":5.7,"i":55,"l":"a)"}],
"bigR":[{"t":80.82,"i":471,"l":"Green Bodies"},{"t":80.24,"i":229,"l":"Potato Starch"}],
"titleR":[{"t":79.98,"i":627,"l":"(50%PPT- 50% PS) T=1100°C"}],
"bigL":[{"t":11.36,"i":144,"l":"PPT"},{"t":20.08,"i":144,"l":"Molten Salts"}],
"codes":[{"t":56.87,"i":588,"l":"01-074-0275"},{"t":58.01,"i":429,"l":"01-073-0671"},{"t":54.67,"i":191,"l":"00-039-1912"}],
"codes26":[{"t":45.63,"i":133,"l":"01-073-0671="}],
"codes22":[{"t":65.85,"i":88,"l":"21-1272="}],
"f28":[{"t":58.01,"i":395,"l":"K"},{"t":62.08,"i":395,"l":"Mg"},{"t":69.34,"i":395,"l":"Ti"},{"t":74.84,"i":395,"l":"O"},{"t":69.93,"i":191,"l":"C"},{"t":72.83,"i":191,"l":"H"},{"t":76.47,"i":191,"l":"O"}],
"f30":[{"t":71.78,"i":549,"l":"K"},{"t":74.92,"i":549,"l":"Ti"},{"t":78.15,"i":549,"l":"O"},{"t":42.75,"i":133,"l":"1="},{"t":62.63,"i":88,"l":"4="}],
"f32":[{"t":59.46,"i":133,"l":"K"},{"t":65.13,"i":133,"l":"Mg"},{"t":72.54,"i":133,"l":"Ti"},{"t":78.41,"i":133,"l":"O"},{"t":74.05,"i":88,"l":"TiO"}],
"sub":[{"t":73.88,"i":540,"l":"2"},{"t":77.19,"i":540,"l":"6"},{"t":80.15,"i":540,"l":"13"},{"t":59.46,"i":386,"l":"0.8"},{"t":65.68,"i":386,"l":"0.40"},{"t":71.35,"i":386,"l":"1.60"},{"t":76.9,"i":386,"l":"4"},{"t":71.78,"i":181,"l":"6"},{"t":74.57,"i":181,"l":"10"},{"t":78.5,"i":181,"l":"5"},{"t":61.78,"i":123,"l":"0.80"},{"t":69.25,"i":123,"l":"0.40"},{"t":75.16,"i":123,"l":"1.60"},{"t":80.59,"i":123,"l":"4"},{"t":78.76,"i":78,"l":"2"}]
},
"resolve":{"axis":{"x":"independent","y":"independent"}},
"layer":[
{"data":{"name":"xrd"},"mark":{"type":"line","color":"black","strokeWidth":2},
 "encoding":{
  "x":{"field":"t","type":"quantitative","scale":{"domain":[5,81.81],"nice":false,"zero":false},
   "axis":{"orient":"bottom","values":[5,10,15,20,25,30,35,40,45,50,55,60,65,70,75,80],"tickSize":11,"tickWidth":2.5,"tickColor":"black","domainColor":"black","domainWidth":3,"labelFontSize":32,"labelFontWeight":"bold","labelColor":"black","labelPadding":23,"labelFlush":false,"labelOverlap":false,"grid":false,"title":"2 Θ","titleFontSize":32,"titleFontWeight":"bold","titleColor":"black","titleY":119,"titleBaseline":"alphabetic"}},
  "y":{"field":"i","type":"quantitative","scale":{"domain":[0,654],"nice":false,"zero":false},
   "axis":{"orient":"left","title":"Intensity Counts/S","domain":false,"ticks":false,"labels":false,"grid":false,"titleFontSize":32,"titleFontWeight":"bold","titleColor":"black","titleX":-44,"titleY":328,"titleAngle":-90,"titleAlign":"center","titleBaseline":"middle"}},
  "detail":{"field":"s"}}},
{"data":{"values":[{}]},"mark":{"type":"rule","color":"black","strokeWidth":3},
 "encoding":{"x":{"datum":5,"type":"quantitative","axis":{"orient":"bottom","values":[5,10,15,20,25,30,35,40,45,50,55,60,65,70,75,80],"tickSize":-9,"tickWidth":2.5,"tickColor":"black","labels":false,"domain":false,"title":null,"grid":false}},"x2":{"datum":81.81},"y":{"datum":654,"type":"quantitative","axis":null}}},
{"data":{"values":[{}]},"mark":{"type":"rule","color":"black","strokeWidth":3},
 "encoding":{"x":{"datum":5,"type":"quantitative","axis":{"orient":"bottom","values":[6,7,8,9,11,12,13,14,16,17,18,19,21,22,23,24,26,27,28,29,31,32,33,34,36,37,38,39,41,42,43,44,46,47,48,49,51,52,53,54,56,57,58,59,61,62,63,64,66,67,68,69,71,72,73,74,76,77,78,79,81],"tickSize":-6,"tickWidth":2,"tickColor":"black","labels":false,"domain":false,"title":null,"grid":false}},"y":{"datum":34,"type":"quantitative","axis":null},"y2":{"datum":654}}},
{"data":{"values":[{}]},"mark":{"type":"rule","color":"black","strokeWidth":3},
 "encoding":{"x":{"datum":5,"type":"quantitative","axis":null},"y":{"datum":16,"type":"quantitative","axis":null},"y2":{"datum":24}}},
{"data":{"values":[{}]},"mark":{"type":"rule","color":"black","strokeWidth":3},
 "encoding":{"x":{"datum":81.81,"type":"quantitative","axis":null},"y":{"datum":18,"type":"quantitative","axis":null},"y2":{"datum":654}}},
{"data":{"name":"n3"},"mark":{"type":"text","fontSize":25,"align":"center","baseline":"alphabetic","color":"black"},
 "encoding":{"x":{"field":"t","type":"quantitative","axis":null},"y":{"field":"i","type":"quantitative","axis":null},"text":{"field":"l"}}},
{"data":{"name":"nb"},"mark":{"type":"text","fontSize":25,"fontWeight":"bold","align":"center","baseline":"alphabetic","color":"black"},
 "encoding":{"x":{"field":"t","type":"quantitative","axis":null},"y":{"field":"i","type":"quantitative","axis":null},"text":{"field":"l"}}},
{"data":{"name":"letters"},"mark":{"type":"text","fontSize":36,"align":"left","baseline":"alphabetic","color":"black"},
 "encoding":{"x":{"field":"t","type":"quantitative","axis":null},"y":{"field":"i","type":"quantitative","axis":null},"text":{"field":"l"}}},
{"data":{"name":"bigR"},"mark":{"type":"text","fontSize":38,"align":"right","baseline":"alphabetic","color":"black"},
 "encoding":{"x":{"field":"t","type":"quantitative","axis":null},"y":{"field":"i","type":"quantitative","axis":null},"text":{"field":"l"}}},
{"data":{"name":"titleR"},"mark":{"type":"text","fontSize":34,"align":"right","baseline":"alphabetic","color":"black"},
 "encoding":{"x":{"field":"t","type":"quantitative","axis":null},"y":{"field":"i","type":"quantitative","axis":null},"text":{"field":"l"}}},
{"data":{"name":"bigL"},"mark":{"type":"text","fontSize":38,"align":"left","baseline":"alphabetic","color":"black"},
 "encoding":{"x":{"field":"t","type":"quantitative","axis":null},"y":{"field":"i","type":"quantitative","axis":null},"text":{"field":"l"}}},
{"data":{"name":"codes"},"mark":{"type":"text","fontSize":24,"fontWeight":"bold","align":"left","baseline":"alphabetic","color":"black"},
 "encoding":{"x":{"field":"t","type":"quantitative","axis":null},"y":{"field":"i","type":"quantitative","axis":null},"text":{"field":"l"}}},
{"data":{"name":"codes26"},"mark":{"type":"text","fontSize":25,"fontWeight":"bold","align":"left","baseline":"alphabetic","color":"black"},
 "encoding":{"x":{"field":"t","type":"quantitative","axis":null},"y":{"field":"i","type":"quantitative","axis":null},"text":{"field":"l"}}},
{"data":{"name":"codes22"},"mark":{"type":"text","fontSize":22,"fontWeight":"bold","align":"left","baseline":"alphabetic","color":"black"},
 "encoding":{"x":{"field":"t","type":"quantitative","axis":null},"y":{"field":"i","type":"quantitative","axis":null},"text":{"field":"l"}}},
{"data":{"name":"f28"},"mark":{"type":"text","fontSize":28,"fontWeight":"bold","align":"left","baseline":"alphabetic","color":"black"},
 "encoding":{"x":{"field":"t","type":"quantitative","axis":null},"y":{"field":"i","type":"quantitative","axis":null},"text":{"field":"l"}}},
{"data":{"name":"f30"},"mark":{"type":"text","fontSize":30,"fontWeight":"bold","align":"left","baseline":"alphabetic","color":"black"},
 "encoding":{"x":{"field":"t","type":"quantitative","axis":null},"y":{"field":"i","type":"quantitative","axis":null},"text":{"field":"l"}}},
{"data":{"name":"f32"},"mark":{"type":"text","fontSize":32,"fontWeight":"bold","align":"left","baseline":"alphabetic","color":"black"},
 "encoding":{"x":{"field":"t","type":"quantitative","axis":null},"y":{"field":"i","type":"quantitative","axis":null},"text":{"field":"l"}}},
{"data":{"name":"sub"},"mark":{"type":"text","fontSize":20,"fontWeight":"bold","align":"left","baseline":"alphabetic","color":"black"},
 "encoding":{"x":{"field":"t","type":"quantitative","axis":null},"y":{"field":"i","type":"quantitative","axis":null},"text":{"field":"l"}}}
]
}
